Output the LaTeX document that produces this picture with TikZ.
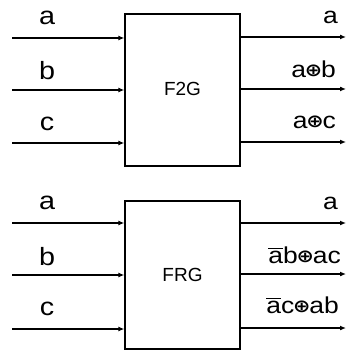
\documentclass[tikz,border=0pt]{standalone}
\usepackage{fontspec}
\usepackage{graphicx}
\setmainfont{Liberation Sans}
\newfontfamily\symfont{DejaVu Sans}
\usetikzlibrary{arrows.meta}
% exclusive-or sign and barred letter
\newcommand{\xorsym}{{\symfont\bfseries\fontsize{18}{18}\selectfont\kern-1pt\raisebox{0.5pt}{⊕}\kern-1pt}}
\newcommand{\barred}[1]{\leavevmode\vbox{\hrule height 1pt\kern2pt\hbox{#1}}}
\newcommand{\wide}[1]{\scalebox{1.15}[1]{#1}}
\begin{document}
\begin{tikzpicture}[x=1pt,y=-1pt,
  gate/.style={draw,line width=1.3pt,minimum width=115pt,inner sep=0pt},
  wire/.style={line width=1.6pt,-{Latex[length=6pt,width=5pt]}},
  inlbl/.style={font=\fontsize{25}{25}\selectfont,inner sep=0pt},
  outlbl/.style={font=\fontsize{23}{23}\selectfont,inner sep=0pt,anchor=east},
  gname/.style={font=\fontsize{19}{19}\selectfont,inner sep=0pt}]
\useasboundingbox (0,0) rectangle (347,352);

% upper gate
\node[gate,minimum height=152pt] (g1) at (182.5,90) {};
\node[gname] (n1) at (182.5,89) {F2G};
\coordinate (i11) at (12,38);
\coordinate (i12) at (12,90);
\coordinate (i13) at (12,143);
\coordinate (o11) at (346,37);
\coordinate (o12) at (346,89);
\coordinate (o13) at (346,142);
\draw[wire] (i11) -- (i11 -| g1.west);
\draw[wire] (i12) -- (i12 -| g1.west);
\draw[wire] (i13) -- (i13 -| g1.west);
\draw[wire] (g1.east |- o11) -- (o11);
\draw[wire] (g1.east |- o12) -- (o12);
\draw[wire] (g1.east |- o13) -- (o13);
\node[inlbl] (la1) at (47,18) {\wide{a}};
\node[inlbl] (lb1) at (47,71) {\wide{b}};
\node[inlbl] (lc1) at (47,124) {\wide{c}};
\node[outlbl] (ra1) at (338,17) {\wide{a}};
\node[outlbl] (rb1) at (336,69) {\wide{a\xorsym b}};
\node[outlbl] (rc1) at (336,122) {\wide{a\xorsym c}};

% lower gate
\node[gate,minimum height=148pt] (g2) at (182.5,275) {};
\node[gname] (n2) at (182.5,275) {FRG};
\coordinate (i21) at (12,223);
\coordinate (i22) at (12,275);
\coordinate (i23) at (12,329);
\coordinate (o21) at (346,223);
\coordinate (o22) at (346,274);
\coordinate (o23) at (346,328);
\draw[wire] (i21) -- (i21 -| g2.west);
\draw[wire] (i22) -- (i22 -| g2.west);
\draw[wire] (i23) -- (i23 -| g2.west);
\draw[wire] (g2.east |- o21) -- (o21);
\draw[wire] (g2.east |- o22) -- (o22);
\draw[wire] (g2.east |- o23) -- (o23);
\node[inlbl] (la2) at (47,203) {\wide{a}};
\node[inlbl] (lb2) at (47,257) {\wide{b}};
\node[inlbl] (lc2) at (47,309) {\wide{c}};
\node[outlbl] (ra2) at (338,203) {\wide{a}};
\node[outlbl] (rb2) at (341,255) {\wide{\barred{a}b\xorsym ac}};
\node[outlbl] (rc2) at (339,305) {\wide{\barred{a}c\xorsym ab}};
\end{tikzpicture}
\end{document}
